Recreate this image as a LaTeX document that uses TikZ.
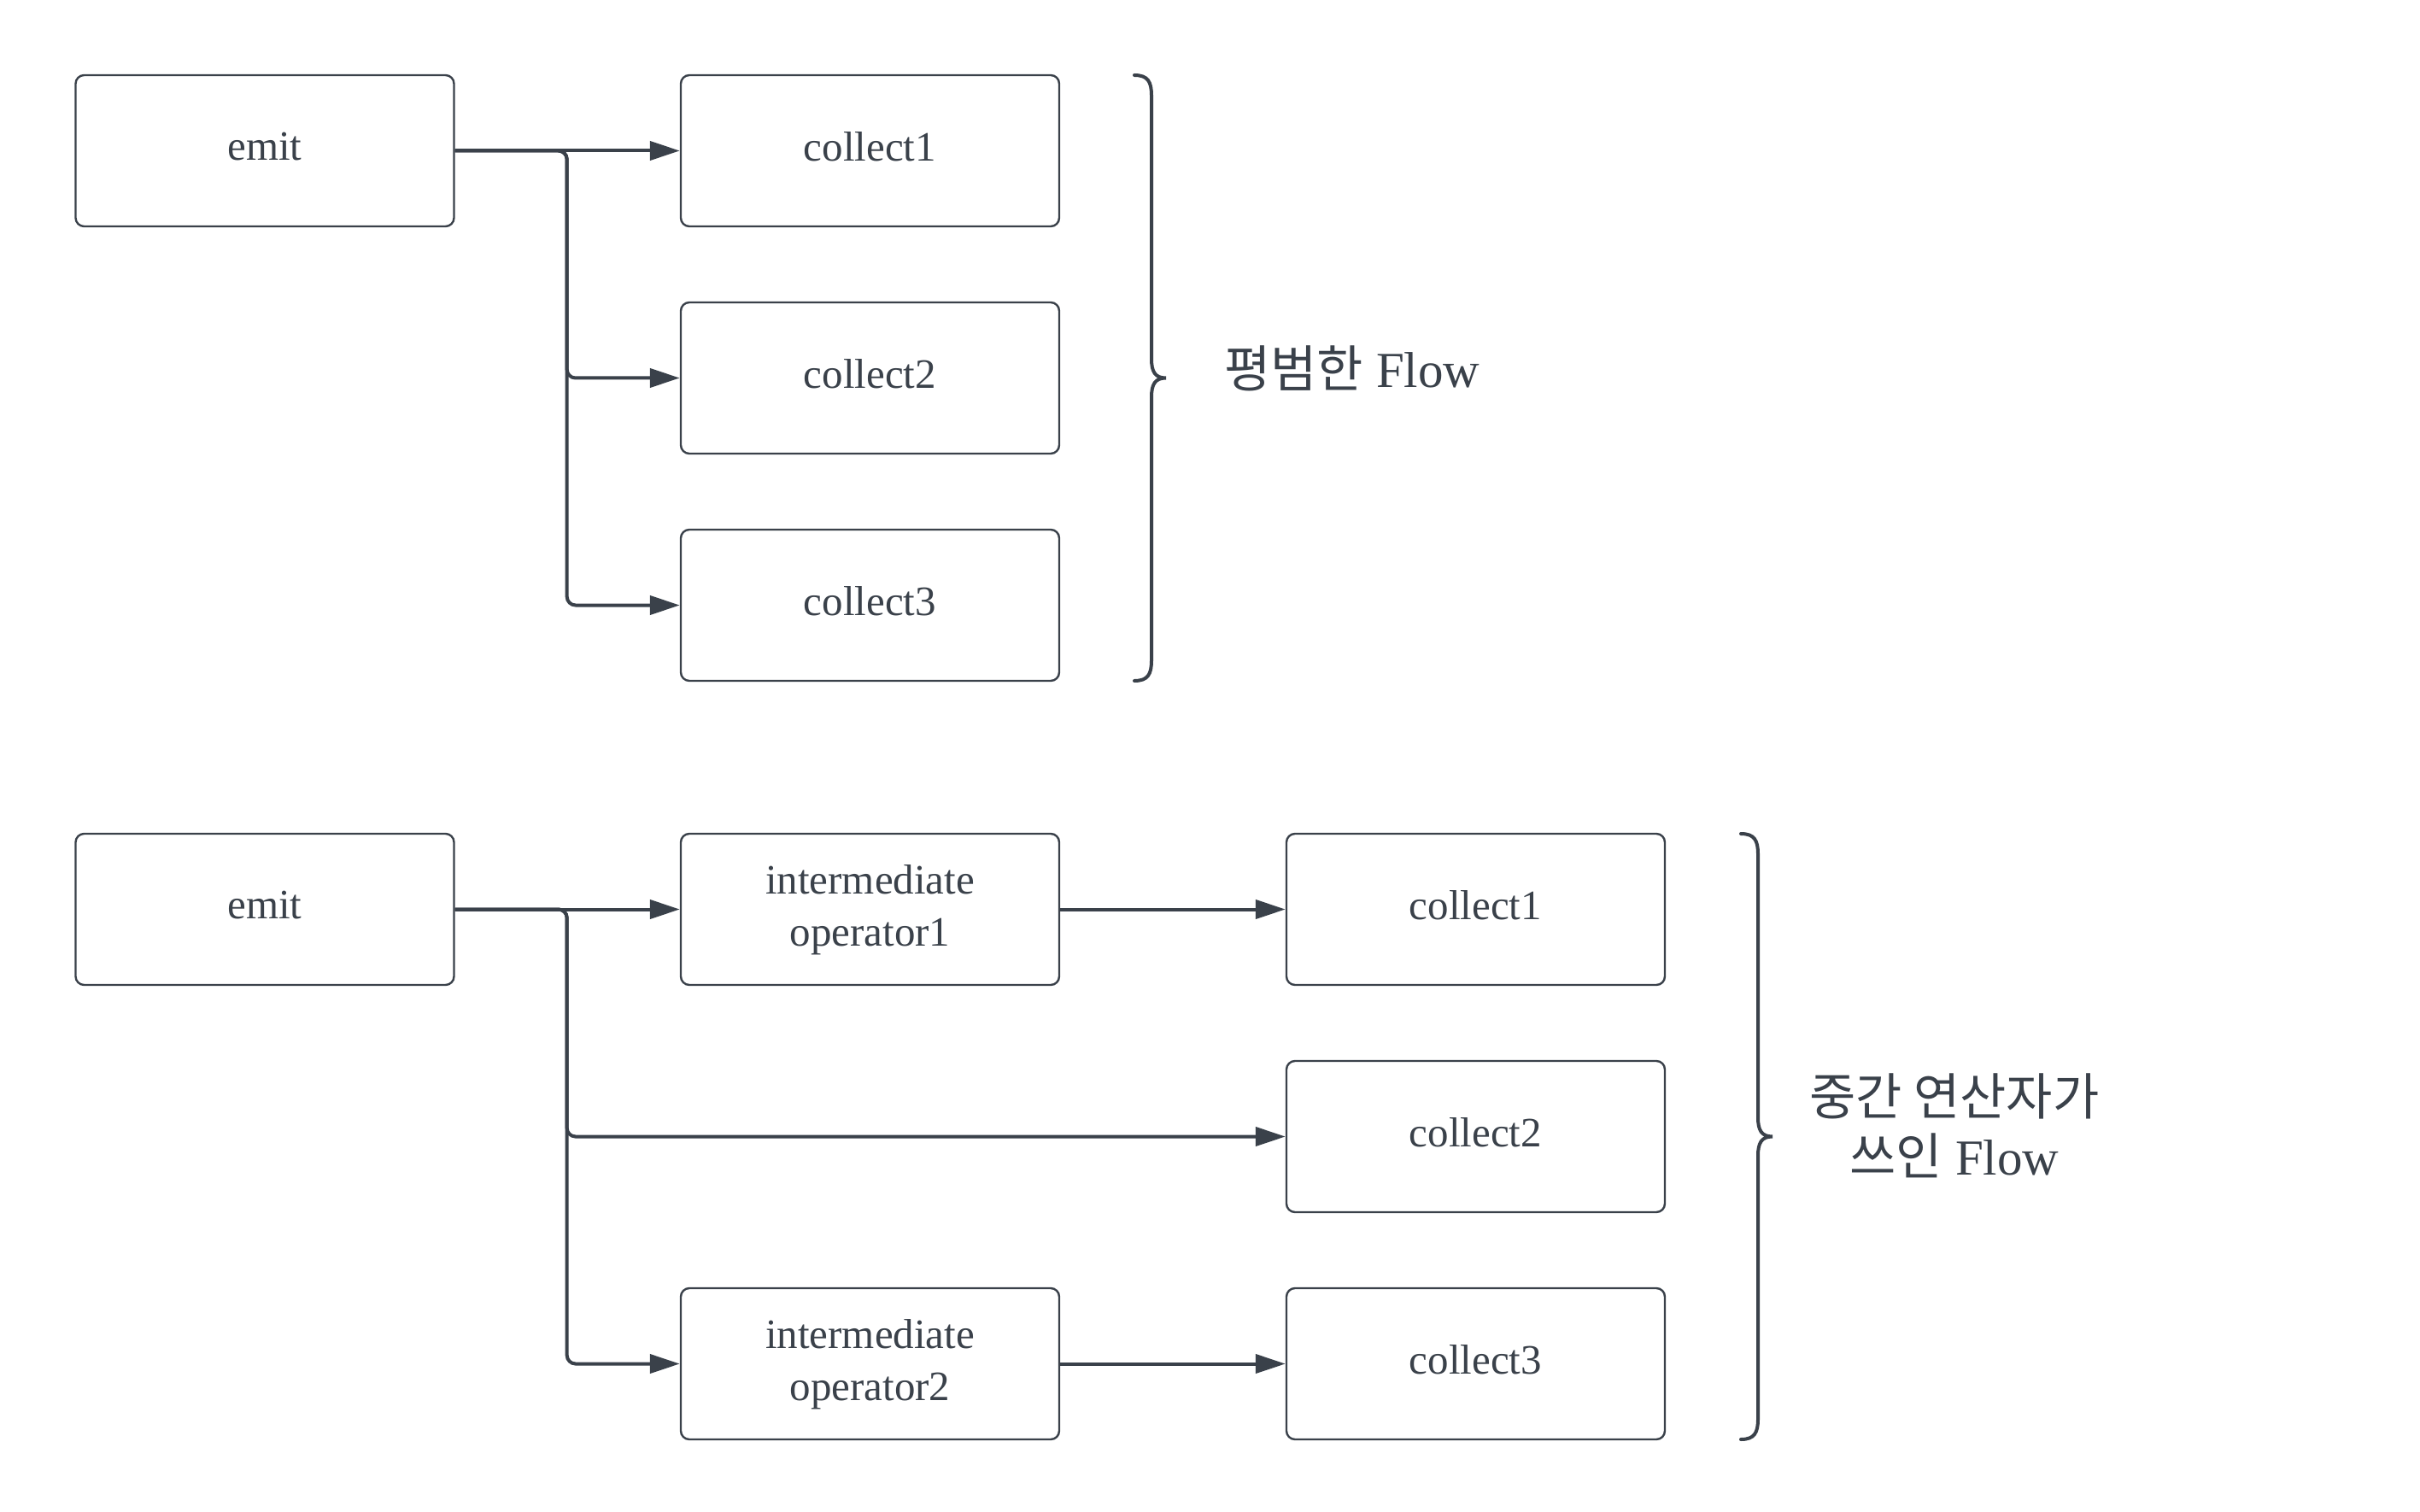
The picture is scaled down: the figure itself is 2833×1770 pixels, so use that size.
\documentclass[tikz,border=0pt]{standalone}
\usepackage{fontspec}
\setmainfont{Liberation Serif}
\newfontfamily\krfont{Noto Sans CJK KR}
\usetikzlibrary{arrows.meta}
\definecolor{ink}{RGB}{58,65,74}
\tikzset{
  box/.style={draw=ink, line width=1.2pt, rounded corners=5pt, minimum width=221.5pt, minimum height=88.5pt, inner sep=0pt, align=center, text=ink, text depth=5pt, font=\fontsize{24.5pt}{30.5pt}\selectfont},
  arr/.style={draw=ink, line width=2pt, rounded corners=5pt, -{Triangle[length=17.5pt,width=11pt]}},
  bracestyle/.style={draw=ink, line width=2pt, line cap=round},
  lbl/.style={text=ink, inner sep=0pt, align=center, font=\fontsize{29.5pt}{35pt}\selectfont}
}
\begin{document}
\begin{tikzpicture}[x=0.5pt,y=-0.5pt]
\useasboundingbox[fill=white] (0,0) rectangle (2833,1770);
% top section
\node[box] (e1) at (310,176.5) {emit};
\node[box] (a1) at (1018.5,176.5) {collect1};
\node[box] (a2) at (1018.5,442.5) {collect2};
\node[box] (a3) at (1018.5,708.5) {collect3};
\draw[arr] (e1.east) -- (a1.west);
\draw[arr] (e1.east) -- ++(131,0) |- (a2.west);
\draw[arr] (e1.east) -- ++(131,0) |- (a3.west);
\coordinate (b1t) at (1328,88);
\coordinate (b1m) at (1365,442.5);
\coordinate (b1b) at (1328,797);
\draw[bracestyle] (b1t) .. controls (1344,88) and (1348,96) .. (1348,112) -- (1348,420) .. controls (1348,435) and (1352,442.5) .. (b1m) .. controls (1352,442.5) and (1348,450) .. (1348,465) -- (1348,773) .. controls (1348,789) and (1344,797) .. (b1b);
\node[lbl, anchor=base west] (l1) at (1433,454) {{\krfont 평범한} Flow};
% bottom section
\node[box] (e2) at (310,1064.5) {emit};
\node[box] (o1) at (1018.5,1064.5) {intermediate\\operator1};
\node[box] (c1) at (1727.5,1064.5) {collect1};
\node[box] (c2) at (1727.5,1330.5) {collect2};
\node[box] (o2) at (1018.5,1596.5) {intermediate\\operator2};
\node[box] (c3) at (1727.5,1596.5) {collect3};
\draw[arr] (e2.east) -- (o1.west);
\draw[arr] (o1.east) -- (c1.west);
\draw[arr] (e2.east) -- ++(131,0) |- (c2.west);
\draw[arr] (e2.east) -- ++(131,0) |- (o2.west);
\draw[arr] (o2.east) -- (c3.west);
\coordinate (b2t) at (2038,976);
\coordinate (b2m) at (2075,1330.5);
\coordinate (b2b) at (2038,1685);
\draw[bracestyle] (b2t) .. controls (2054,976) and (2058,984) .. (2058,1000) -- (2058,1308) .. controls (2058,1323) and (2062,1330.5) .. (b2m) .. controls (2062,1330.5) and (2058,1338) .. (2058,1353) -- (2058,1661) .. controls (2058,1677) and (2054,1685) .. (b2b);
\node[lbl] (l2) at (2288,1318) {{\krfont 중간 연산자가}\\{\krfont 쓰인} Flow};
\end{tikzpicture}
\end{document}
